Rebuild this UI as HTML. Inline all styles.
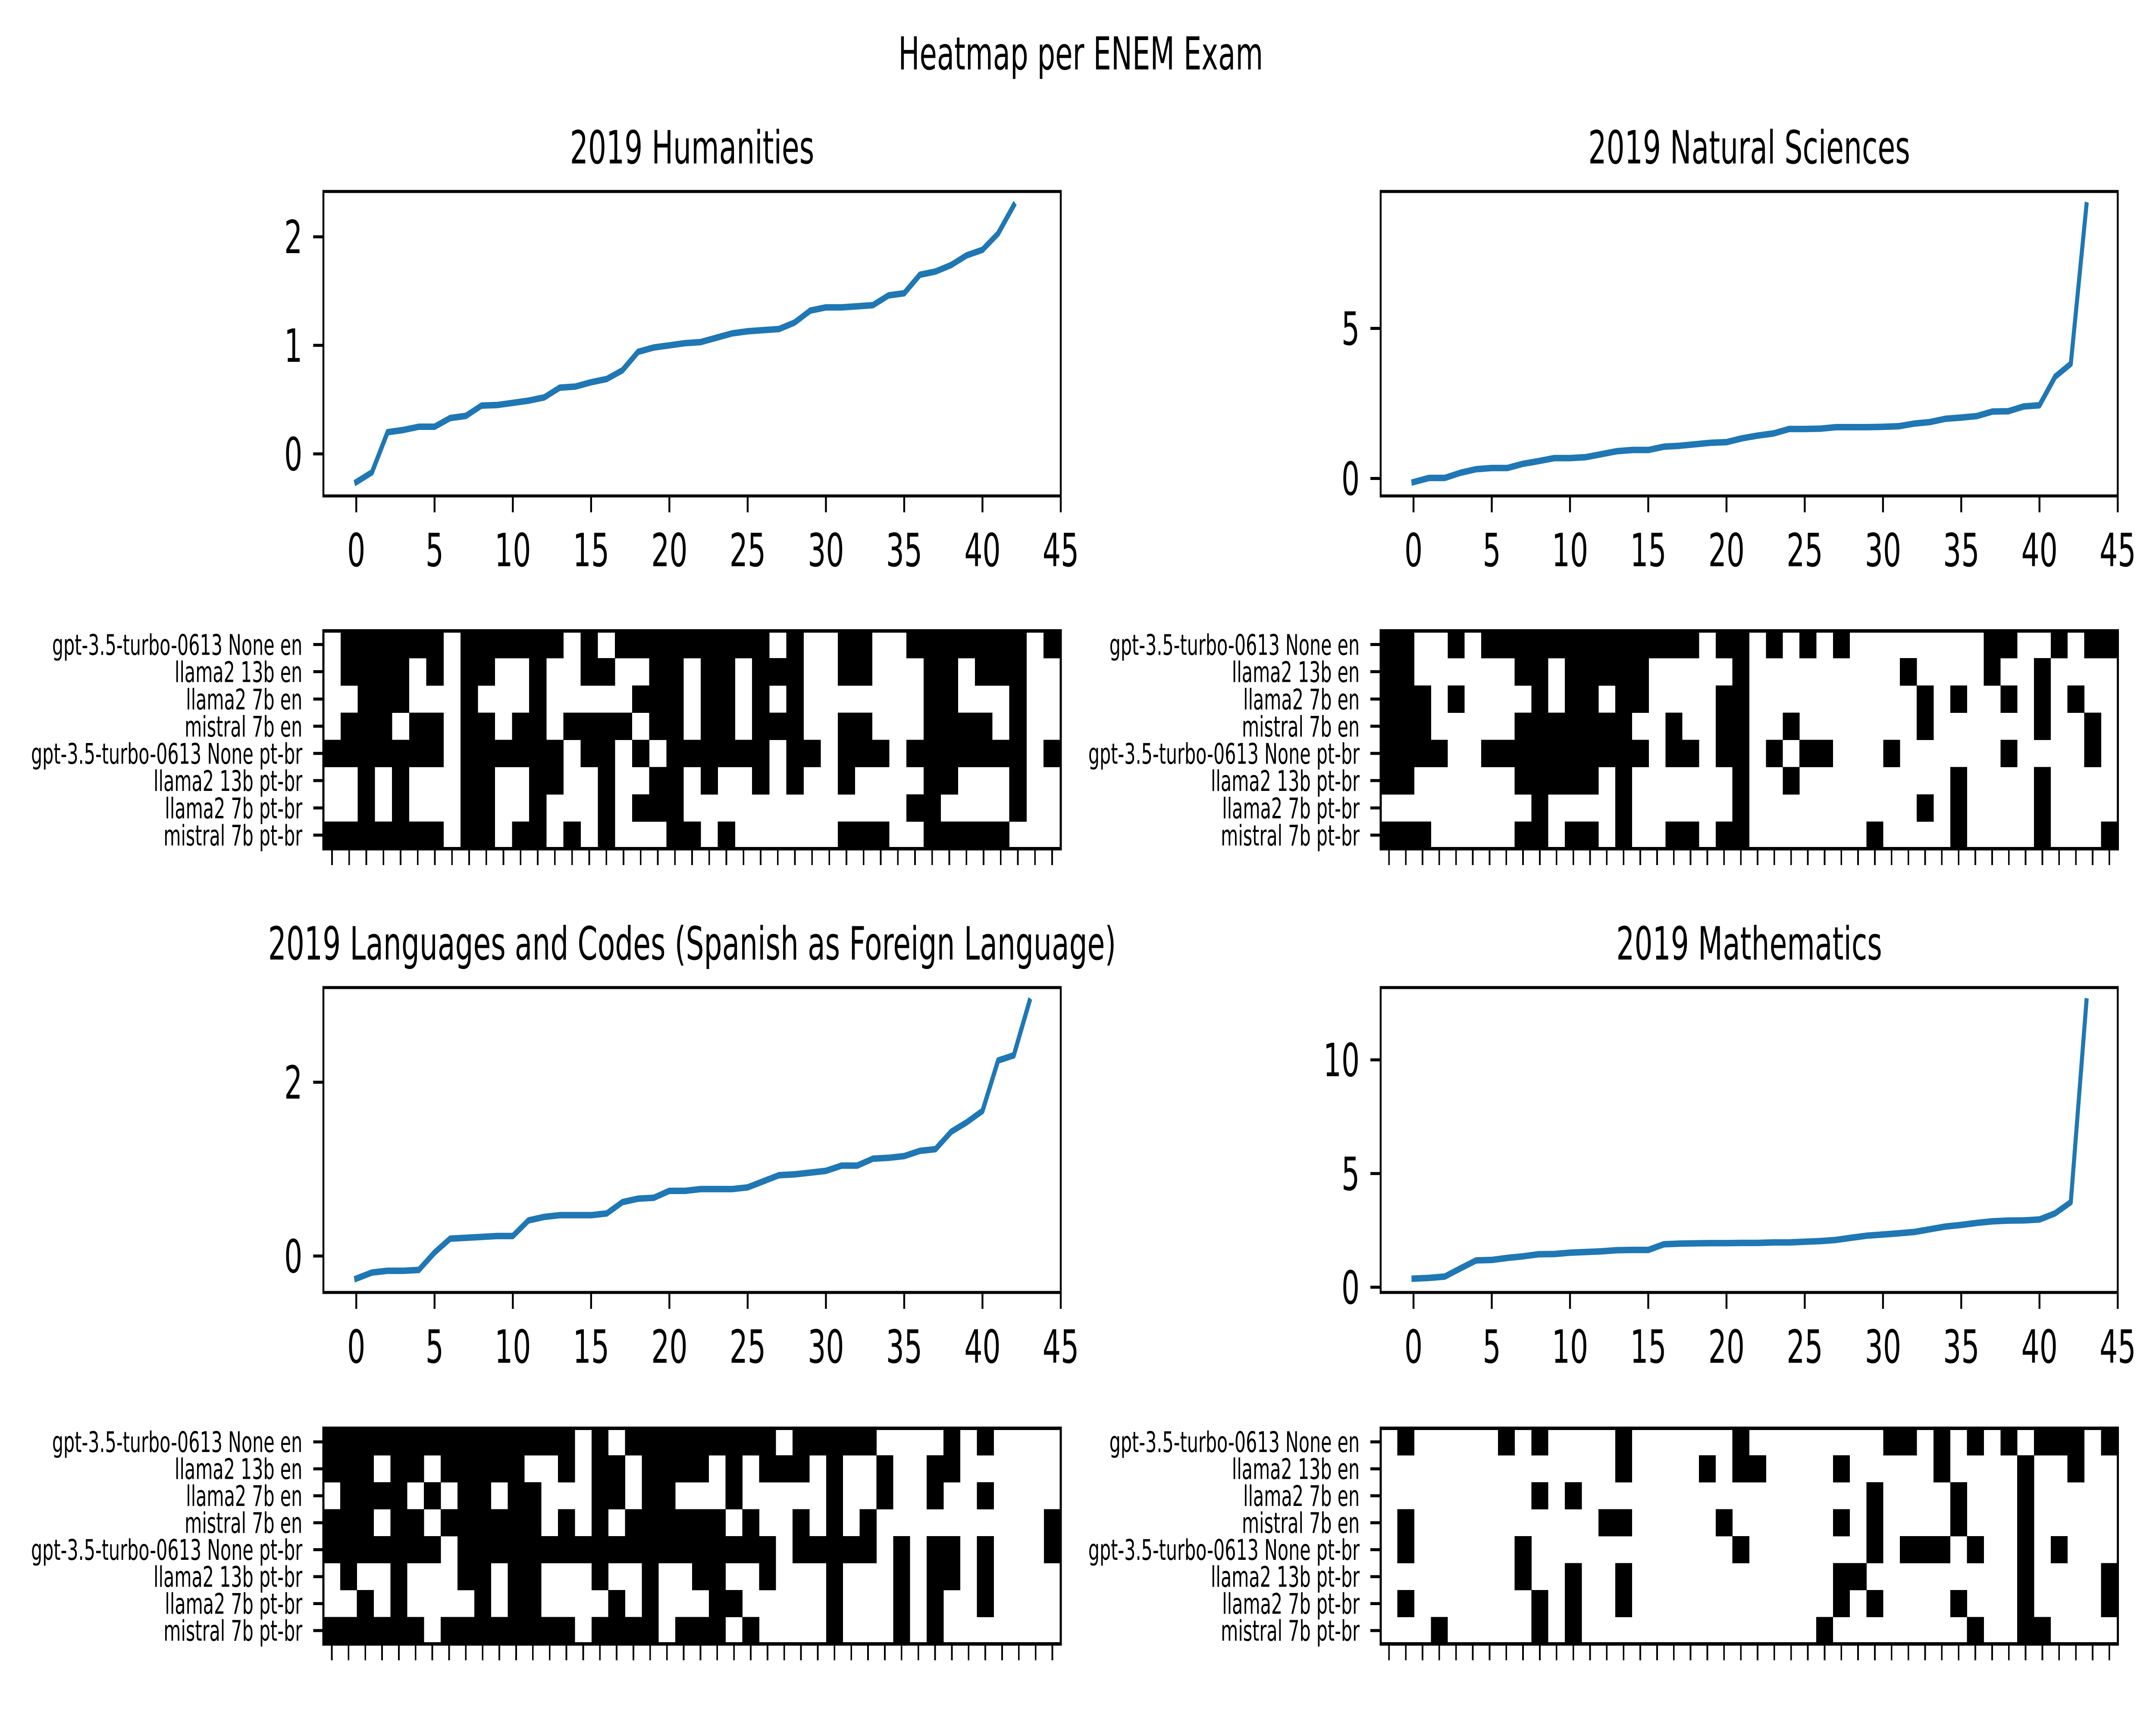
<!DOCTYPE html>
<html>
<head>
<meta charset="utf-8">
<style>
  html, body { margin:0; padding:0; background:#fff; width:100%; height:100%; overflow:hidden; }
  svg { display:block; width:100vw; height:100vh; font-family:"DejaVu Sans","Liberation Sans",sans-serif; }
</style>
</head>
<body>
<svg id="fig" viewBox="0 0 8000 4000" preserveAspectRatio="none" xmlns="http://www.w3.org/2000/svg">
  <rect x="0" y="0" width="8000" height="4000" fill="#fff"/>
  <text x="4010" y="161" font-size="105" text-anchor="middle">Heatmap per ENEM Exam</text>
</svg>
<script>
// ---- data ----
const modelLabels = ["gpt-3.5-turbo-0613 None en","llama2 13b en","llama2 7b en","mistral 7b en","gpt-3.5-turbo-0613 None pt-br","llama2 13b pt-br","llama2 7b pt-br","mistral 7b pt-br"];
const xTickLabels = [0,5,10,15,20,25,30,35,40,45];

const humValues = [-0.26,-0.17,0.20,0.22,0.25,0.25,0.33,0.35,0.445,0.45,0.47,0.49,0.52,0.61,0.62,0.66,0.69,0.77,0.94,0.98,1.00,1.02,1.03,1.07,1.11,1.13,1.14,1.15,1.21,1.32,1.35,1.35,1.36,1.37,1.46,1.48,1.65,1.68,1.74,1.83,1.88,2.03,2.29];
const humYTicks = [0,1,2];
const natValues = [-0.12,0.02,0.02,0.19,0.31,0.35,0.35,0.49,0.58,0.68,0.68,0.71,0.81,0.91,0.95,0.95,1.06,1.09,1.14,1.19,1.21,1.34,1.43,1.50,1.65,1.65,1.66,1.71,1.71,1.71,1.72,1.74,1.83,1.88,1.99,2.03,2.08,2.23,2.24,2.40,2.44,3.39,3.82,9.10];
const natYTicks = [0,5];
const langValues = [-0.26,-0.19,-0.17,-0.17,-0.16,0.04,0.20,0.21,0.22,0.23,0.23,0.41,0.45,0.47,0.47,0.47,0.49,0.62,0.66,0.67,0.75,0.75,0.77,0.77,0.77,0.79,0.86,0.93,0.94,0.96,0.98,1.04,1.04,1.12,1.13,1.15,1.21,1.23,1.43,1.54,1.67,2.25,2.31,2.93];
const langYTicks = [0,2];
const mathValues = [0.38,0.41,0.47,0.83,1.18,1.20,1.29,1.36,1.45,1.46,1.52,1.55,1.58,1.63,1.64,1.64,1.89,1.92,1.93,1.94,1.94,1.95,1.95,1.97,1.97,2.00,2.03,2.08,2.18,2.27,2.32,2.37,2.43,2.55,2.67,2.74,2.83,2.90,2.93,2.94,2.98,3.25,3.74,12.57];
const mathYTicks = [0,5,10];

const humHeat = [
[0,1,1,1,1,1,1,0,1,1,1,1,1,1,0,1,0,1,1,1,1,1,1,1,1,1,0,1,0,0,1,1,0,0,1,1,1,1,1,1,1,0,1],
[0,1,1,1,1,0,1,0,1,1,0,0,1,0,0,1,1,0,0,1,1,0,1,1,0,1,1,1,0,0,1,1,0,0,0,1,1,0,1,1,1,0,0],
[0,0,1,1,1,0,0,0,1,0,0,0,1,0,0,0,0,0,1,1,1,0,1,1,0,1,0,1,0,0,0,0,0,0,0,1,1,0,0,0,1,0,0],
[0,1,1,1,0,1,1,0,1,1,0,1,1,0,1,1,1,1,0,1,1,0,1,1,0,1,1,1,0,0,1,1,0,0,0,1,1,1,1,0,1,0,0],
[1,1,1,1,1,1,1,0,1,1,1,1,1,1,0,1,1,0,1,0,1,1,1,1,1,1,0,1,1,0,1,1,1,0,1,1,1,1,1,1,1,0,1],
[0,0,1,0,1,0,0,0,1,1,0,0,1,1,0,0,1,0,0,1,1,0,1,0,0,1,0,1,0,0,1,0,0,0,0,1,1,0,0,0,1,0,0],
[0,0,1,0,1,0,0,0,1,1,0,0,1,0,0,0,1,0,1,1,1,0,0,0,0,0,0,0,0,0,0,0,0,0,1,1,0,0,0,0,1,0,0],
[1,1,1,1,1,1,1,0,1,1,0,1,1,0,1,0,1,0,0,0,1,1,0,1,0,0,0,0,0,0,1,1,1,0,0,1,1,1,1,1,0,0,0]
];
const natHeat = [
[1,1,0,0,1,0,1,1,1,1,1,1,1,1,1,1,1,1,1,0,1,1,0,1,0,1,0,1,0,0,0,0,0,0,0,0,1,1,0,0,1,0,1,1],
[1,1,0,0,0,0,0,0,1,1,0,1,1,1,1,1,0,0,0,0,0,1,0,0,0,0,0,0,0,0,0,1,0,0,0,0,1,0,0,1,0,0,0,0],
[1,1,1,0,1,0,0,0,0,1,0,1,1,0,1,1,0,0,0,0,1,1,0,0,0,0,0,0,0,0,0,0,1,0,1,0,0,1,0,1,0,1,0,0],
[1,1,1,0,0,0,0,0,1,1,1,1,1,1,1,0,0,1,0,0,1,1,0,0,1,0,0,0,0,0,0,0,1,0,0,0,0,0,0,1,0,0,1,0],
[1,1,1,1,0,0,1,1,1,1,1,1,1,1,1,1,0,1,1,0,1,1,0,1,0,1,1,0,0,0,1,0,0,0,0,0,0,1,0,0,0,0,1,0],
[1,1,0,0,0,0,0,0,1,1,1,1,1,0,1,0,0,0,0,0,0,1,0,0,1,0,0,0,0,0,0,0,0,0,1,0,0,0,0,1,0,0,0,0],
[0,0,0,0,0,0,0,0,0,1,0,0,0,0,1,0,0,0,0,0,0,1,0,0,0,0,0,0,0,0,0,0,1,0,1,0,0,0,0,1,0,0,0,0],
[1,1,1,0,0,0,0,0,1,1,0,1,1,0,1,0,0,1,1,0,1,1,0,0,0,0,0,0,0,1,0,0,0,0,1,0,0,0,0,1,0,0,0,1]
];
const langHeat = [
[1,1,1,1,1,1,1,1,1,1,1,1,1,1,1,0,1,0,1,1,1,1,1,1,1,1,1,0,1,1,1,1,1,0,0,0,0,1,0,1,0,0,0,0],
[1,1,1,0,1,1,0,1,1,1,1,1,0,0,1,0,1,1,0,1,1,1,1,0,1,0,1,1,1,0,1,0,0,1,0,0,1,1,0,0,0,0,0,0],
[0,1,1,1,1,0,1,0,1,1,0,1,1,0,0,0,1,1,0,1,1,0,0,0,1,0,0,0,0,0,1,0,0,1,0,0,1,0,0,1,0,0,0,0],
[1,1,1,0,1,1,0,1,1,1,1,1,1,0,1,0,1,0,1,1,1,1,1,1,0,1,0,0,1,0,1,0,1,0,0,0,0,0,0,0,0,0,0,1],
[1,1,1,1,1,1,1,0,1,1,1,1,1,1,1,1,1,1,1,1,1,1,1,1,1,1,1,0,1,1,1,1,1,0,1,0,1,1,0,1,0,0,0,1],
[0,1,0,0,1,0,0,0,1,1,0,1,1,0,0,0,1,0,0,1,0,0,1,1,0,0,1,0,0,0,1,0,0,0,1,0,1,1,0,1,0,0,0,0],
[0,0,1,0,1,0,0,0,0,1,0,1,1,0,0,0,0,1,0,1,0,0,0,1,1,0,0,0,0,0,1,0,0,0,1,0,1,0,0,1,0,0,0,0],
[1,1,1,1,1,1,0,1,1,1,1,1,1,1,1,0,1,1,1,1,0,1,1,1,0,1,0,0,0,0,1,0,0,0,1,0,1,0,0,0,0,0,0,0]
];
const mathHeat = [
[0,1,0,0,0,0,0,1,0,1,0,0,0,0,1,0,0,0,0,0,0,1,0,0,0,0,0,0,0,0,1,1,0,1,0,1,0,1,0,1,1,1,0,1],
[0,0,0,0,0,0,0,0,0,0,0,0,0,0,1,0,0,0,0,1,0,1,1,0,0,0,0,1,0,0,0,0,0,1,0,0,0,0,1,0,0,1,0,0],
[0,0,0,0,0,0,0,0,0,1,0,1,0,0,0,0,0,0,0,0,0,0,0,0,0,0,0,0,0,1,0,0,0,0,1,0,0,0,1,0,0,0,0,0],
[0,1,0,0,0,0,0,0,0,0,0,0,0,1,1,0,0,0,0,0,1,0,0,0,0,0,0,1,0,1,0,0,0,0,1,0,0,0,1,0,0,0,0,0],
[0,1,0,0,0,0,0,0,1,0,0,0,0,0,0,0,0,0,0,0,0,1,0,0,0,0,0,0,0,1,0,1,1,1,0,1,0,0,1,0,1,0,0,0],
[0,0,0,0,0,0,0,0,1,0,0,1,0,0,1,0,0,0,0,0,0,0,0,0,0,0,0,1,1,0,0,0,0,0,0,0,0,0,1,0,0,0,0,1],
[0,1,0,0,0,0,0,0,0,1,0,1,0,0,1,0,0,0,0,0,0,0,0,0,0,0,0,1,0,1,0,0,0,0,1,0,0,0,1,0,0,0,0,1],
[0,0,0,1,0,0,0,0,0,1,0,1,0,0,0,0,0,0,0,0,0,0,0,0,0,0,1,0,0,0,0,0,0,0,0,1,0,0,1,1,0,0,0,0]
];

// ---- rendering ----
const NS = "http://www.w3.org/2000/svg";
const svg = document.getElementById("fig");
const XMIN = -2.1, XMAX = 45;
function mk(tag, attrs, parent) {
  const el = document.createElementNS(NS, tag);
  for (const k in attrs) el.setAttribute(k, attrs[k]);
  (parent || svg).appendChild(el);
  return el;
}

function lineChart(key, title, vals, yTicks, L, T, R, B) {
  const g = mk("g", {});
  
  
  const lo = Math.min(...vals), hi = Math.max(...vals), m = (hi - lo) * 0.05;
  const y0 = lo - m, y1 = hi + m;
  const xs = v => L + (v - XMIN) / (XMAX - XMIN) * (R - L);
  const ys = v => B - (v - y0) / (y1 - y0) * (B - T);
  const t = mk("text", {x:(L+R)/2, y:T-65, "font-size":106, "text-anchor":"middle"}, g);
  t.textContent = title;
  
  
  const pts = vals.map((v, i) => xs(i).toFixed(1) + "," + ys(v).toFixed(1)).join(" ");
  const pl = mk("polyline", {points:pts, fill:"none", stroke:"#1f77b4", "stroke-width":15, "stroke-linejoin":"round", "stroke-linecap":"square"}, g);
  
  
  const fr = mk("rect", {x:L, y:T, width:R-L, height:B-T, fill:"none", stroke:"#000", "stroke-width":7}, g);
  
  
  xTickLabels.forEach(tv => {
    const x = xs(tv);
    const ln = mk("line", {x1:x, x2:x, y1:B, y2:B+38, stroke:"#000", "stroke-width":7}, g);
    
    
    const tx = mk("text", {x:x, y:B+163, "font-size":106, "text-anchor":"middle"}, g);
    tx.textContent = tv;
    
    
  });
  yTicks.forEach(tv => {
    const y = ys(tv);
    const ln = mk("line", {x1:L-38, x2:L, y1:y, y2:y, stroke:"#000", "stroke-width":7}, g);
    
    
    const tx = mk("text", {x:L-78, y:y+38, "font-size":106, "text-anchor":"end"}, g);
    tx.textContent = tv;
    
    
  });
}

function heatmap(key, grid, L, T, R, B) {
  const g = mk("g", {"shape-rendering":"crispEdges"});
  
  
  const nr = grid.length, nc = grid[0].length;
  const cw = (R - L) / nc, rh = (B - T) / nr;
  grid.forEach((row, r) => {
    row.forEach((v, c) => {
      if (v) {
        const cell = mk("rect", {x:(L + c*cw).toFixed(2), y:(T + r*rh).toFixed(2), width:(cw+0.6).toFixed(2), height:(rh+0.6).toFixed(2), fill:"#000"}, g);
        
        
      }
    });
  });
  const fr = mk("rect", {x:L, y:T, width:R-L, height:B-T, fill:"none", stroke:"#000", "stroke-width":8}, g);
  
  
  for (let c = 0; c < nc; c++) {
    const x = L + (c + 0.5) * cw;
    const ln = mk("line", {x1:x, x2:x, y1:B, y2:B+38, stroke:"#000", "stroke-width":6}, g);
    
    
  }
  modelLabels.forEach((lab, r) => {
    const y = T + (r + 0.5) * rh;
    const ln = mk("line", {x1:L-38, x2:L, y1:y, y2:y, stroke:"#000", "stroke-width":7}, g);
    
    
    const tx = mk("text", {x:L-78, y:y+24, "font-size":66, "text-anchor":"end"}, g);
    tx.textContent = lab;
    
    
  });
}

lineChart("humanities", "2019 Humanities", humValues, humYTicks, 1200, 444, 3936, 1150);
heatmap("humanities", humHeat, 1200, 1463, 3936, 1968);
lineChart("natural-sciences", "2019 Natural Sciences", natValues, natYTicks, 5123, 444, 7858, 1150);
heatmap("natural-sciences", natHeat, 5123, 1463, 7858, 1968);
lineChart("languages", "2019 Languages and Codes (Spanish as Foreign Language)", langValues, langYTicks, 1200, 2290, 3936, 2997);
heatmap("languages", langHeat, 1200, 3312, 3936, 3812);
lineChart("mathematics", "2019 Mathematics", mathValues, mathYTicks, 5123, 2290, 7858, 2997);
heatmap("mathematics", mathHeat, 5123, 3312, 7858, 3812);
</script>
</body>
</html>
